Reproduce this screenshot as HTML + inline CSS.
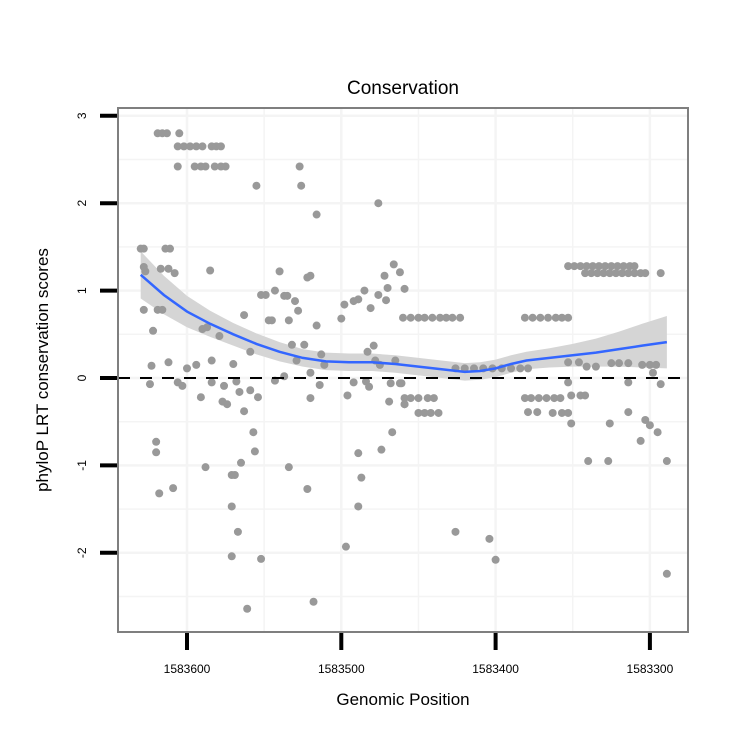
<!DOCTYPE html>
<html><head><meta charset="utf-8"><style>
body{margin:0;background:#fff;}
svg text{font-family:"Liberation Sans",sans-serif;}
</style></head><body>
<svg id="chart" width="750" height="750" viewBox="0 0 750 750" xmlns="http://www.w3.org/2000/svg">
<rect width="750" height="750" fill="#fff"/>
<text x="403" y="94" font-size="19" text-anchor="middle">Conservation</text>
<text x="403" y="705" font-size="17" text-anchor="middle">Genomic Position</text>
<text transform="translate(48,370) rotate(-90)" font-size="17" text-anchor="middle">phyloP LRT conservation scores</text>
<g id="grid"></g><g id="band"></g><g id="pts"></g><g id="line"></g><g id="axes"></g>
</svg>
<script>
const xTicks=[1583600,1583500,1583400,1583300];
const yTicks=[3,2,1,0,-1,-2];
const positions=[1583619,1583616,1583613,1583605,1583606,1583602,1583598,1583594,1583590,1583584,1583581,1583578,1583606,1583595,1583591,1583588,1583582,1583578,1583575,1583555,1583527,1583526,1583516,1583476,1583630,1583628,1583614,1583611,1583628,1583627,1583617,1583612,1583608,1583585,1583540,1583522,
1583628,1583619,1583616,1583622,1583590,1583587,1583579,1583563,1583559,1583552,1583549,1583547,1583545,1583543,1583537,1583535,1583530,1583528,1583534,1583520,1583516,1583532,1583524,1583513,1583498,1583500,1583492,1583489,1583485,1583476,1583481,1583472,1583470,1583471,1583466,1583462,1583459,1583479,1583483,1583478,1583475,1583465,1583623,1583612,1583600,1583594,1583584,1583570,1583529,1583511,
1583624,1583606,1583603,1583591,1583584,1583576,1583568,1583566,1583559,1583554,1583577,1583574,1583563,1583557,1583556,1583565,1583571,1583569,1583588,1583620,1583620,1583609,1583618,1583571,1583567,1583571,1583552,1583561,1583543,1583537,1583520,1583514,1583520,1583496,1583492,1583484,1583482,1583468,1583462,1583469,1583459,1583534,1583522,1583489,1583487,1583489,1583474,1583467,1583497,1583518,
1583460,1583455,1583450,1583446,1583441,1583436,1583432,1583428,1583423,1583381,1583376,1583371,1583366,1583361,1583357,1583353,
1583353,1583349,1583345,1583341,1583337,1583333,1583329,1583325,1583321,1583317,1583313,1583310,1583342,1583338,1583334,1583330,1583326,1583322,1583318,1583314,1583310,1583306,1583303,1583293,
1583426,1583420,1583414,1583408,1583402,1583396,1583390,1583384,1583379,1583353,1583346,1583341,1583335,1583325,1583320,1583314,1583305,1583300,1583296,1583298,1583461,1583353,1583314,1583293,
1583459,1583455,1583450,1583444,1583440,1583459,1583450,1583446,1583442,1583437,1583381,1583377,1583372,1583367,1583362,1583358,1583379,1583373,1583363,1583357,1583353,1583351,1583345,1583342,1583351,1583326,1583314,1583303,1583300,1583295,1583306,1583340,1583327,1583289,1583426,1583404,1583400,1583289];
const scores=[2.8,2.8,2.8,2.8,2.65,2.65,2.65,2.65,2.65,2.65,2.65,2.65,2.42,2.42,2.42,2.42,2.42,2.42,2.42,2.2,2.42,2.2,1.87,2.0,1.48,1.48,1.48,1.48,1.27,1.22,1.25,1.25,1.2,1.23,1.22,1.15,
0.78,0.78,0.78,0.54,0.56,0.58,0.48,0.72,0.3,0.95,0.95,0.66,0.66,1.0,0.94,0.94,0.88,0.77,0.66,1.17,0.6,0.38,0.38,0.27,0.84,0.68,0.88,0.9,1.0,0.95,0.8,1.17,1.03,0.89,1.3,1.21,1.02,0.37,0.3,0.2,0.15,0.2,0.14,0.18,0.11,0.15,0.2,0.16,0.2,0.15,
-0.07,-0.05,-0.09,-0.22,-0.05,-0.09,-0.04,-0.16,-0.14,-0.22,-0.27,-0.3,-0.38,-0.62,-0.84,-0.97,-1.11,-1.11,-1.02,-0.73,-0.85,-1.26,-1.32,-1.47,-1.76,-2.04,-2.07,-2.64,-0.03,0.02,0.06,-0.08,-0.23,-0.2,-0.05,-0.04,-0.1,-0.06,-0.06,-0.27,-0.3,-1.02,-1.27,-0.86,-1.14,-1.47,-0.82,-0.62,-1.93,-2.56,
0.69,0.69,0.69,0.69,0.69,0.69,0.69,0.69,0.69,0.69,0.69,0.69,0.69,0.69,0.69,0.69,
1.28,1.28,1.28,1.28,1.28,1.28,1.28,1.28,1.28,1.28,1.28,1.28,1.2,1.2,1.2,1.2,1.2,1.2,1.2,1.2,1.2,1.2,1.2,1.2,
0.11,0.11,0.11,0.11,0.11,0.11,0.11,0.11,0.11,0.18,0.18,0.13,0.13,0.17,0.17,0.17,0.15,0.15,0.15,0.06,-0.06,-0.05,-0.05,-0.07,
-0.23,-0.23,-0.23,-0.23,-0.23,-0.3,-0.4,-0.4,-0.4,-0.4,-0.23,-0.23,-0.23,-0.23,-0.23,-0.23,-0.39,-0.39,-0.4,-0.4,-0.4,-0.2,-0.2,-0.2,-0.52,-0.52,-0.39,-0.48,-0.54,-0.62,-0.72,-0.95,-0.95,-0.95,-1.76,-1.84,-2.08,-2.24];
const smoothPos=[1583630,1583615,1583600,1583585,1583570,1583555,1583540,1583525,1583510,1583495,1583480,1583465,1583450,1583435,1583420,1583410,1583400,1583390,1583380,1583365,1583350,1583335,1583320,1583305,1583289];
const smoothFit=[1.18,0.95,0.76,0.62,0.5,0.39,0.3,0.23,0.19,0.18,0.18,0.16,0.13,0.1,0.07,0.08,0.11,0.16,0.2,0.23,0.26,0.29,0.33,0.37,0.41];
const smoothSe=[0.27,0.22,0.18,0.15,0.13,0.12,0.11,0.1,0.1,0.1,0.1,0.1,0.1,0.1,0.1,0.1,0.1,0.1,0.1,0.11,0.13,0.16,0.2,0.25,0.3];

const NS='http://www.w3.org/2000/svg';
const X=v=>187+(1583600-v)*1.543;
const Y=v=>378-v*87.4;
const L=118,R=688,T=108,B=632;
function mk(tag,attrs,parent){const e=document.createElementNS(NS,tag);for(const k in attrs)e.setAttribute(k,attrs[k]);document.getElementById(parent).appendChild(e);return e;}
// grid
for(let v=-2.5;v<=3;v+=0.5){const e=mk('line',{x1:L,x2:R,y1:Y(v),y2:Y(v),stroke:'#f4f4f4','stroke-width':Number.isInteger(v)?2.5:1.5},'grid');

}
for(let v=1583650;v>=1583250;v-=50){const x=X(v);if(x<L||x>R)continue;const e=mk('line',{x1:x,x2:x,y1:T,y2:B,stroke:'#f4f4f4','stroke-width':v%100===0?2.5:1.5},'grid');

}
// band
let up=smoothPos.map((p,i)=>X(p)+','+Y(smoothFit[i]+smoothSe[i]));
let dn=smoothPos.map((p,i)=>X(p)+','+Y(smoothFit[i]-smoothSe[i])).reverse();
const band=mk('polygon',{points:up.concat(dn).join(' '),fill:'#d5d5d5'},'band');


// zero line
const z=mk('line',{x1:L,x2:R,y1:Y(0),y2:Y(0),stroke:'#000','stroke-width':2,'stroke-dasharray':'12,10'},'line');


// points
positions.forEach((p,i)=>{const c=mk('circle',{cx:X(p),cy:Y(scores[i]),r:4,fill:'#999'},'pts');

});
const sl=mk('polyline',{points:smoothPos.map((p,i)=>X(p)+','+Y(smoothFit[i])).join(' '),fill:'none',stroke:'#3366ff','stroke-width':2.5},'line');


// panel border
const pb=mk('rect',{x:L,y:T,width:R-L,height:B-T,fill:'none',stroke:'#7f7f7f','stroke-width':2},'axes');


yTicks.forEach(v=>{const t=mk('line',{x1:100,x2:117,y1:Y(v),y2:Y(v),stroke:'#000','stroke-width':4},'axes');


const tx=mk('text',{transform:`translate(86,${Y(v)}) rotate(-90)`,'font-size':12,'text-anchor':'middle'},'axes');tx.textContent=v;

});
xTicks.forEach(v=>{const t=mk('line',{x1:X(v),x2:X(v),y1:633,y2:650,stroke:'#000','stroke-width':4},'axes');


const tx=mk('text',{x:X(v),y:673,'font-size':12,'text-anchor':'middle'},'axes');tx.textContent=v;

});
</script>
</body></html>
